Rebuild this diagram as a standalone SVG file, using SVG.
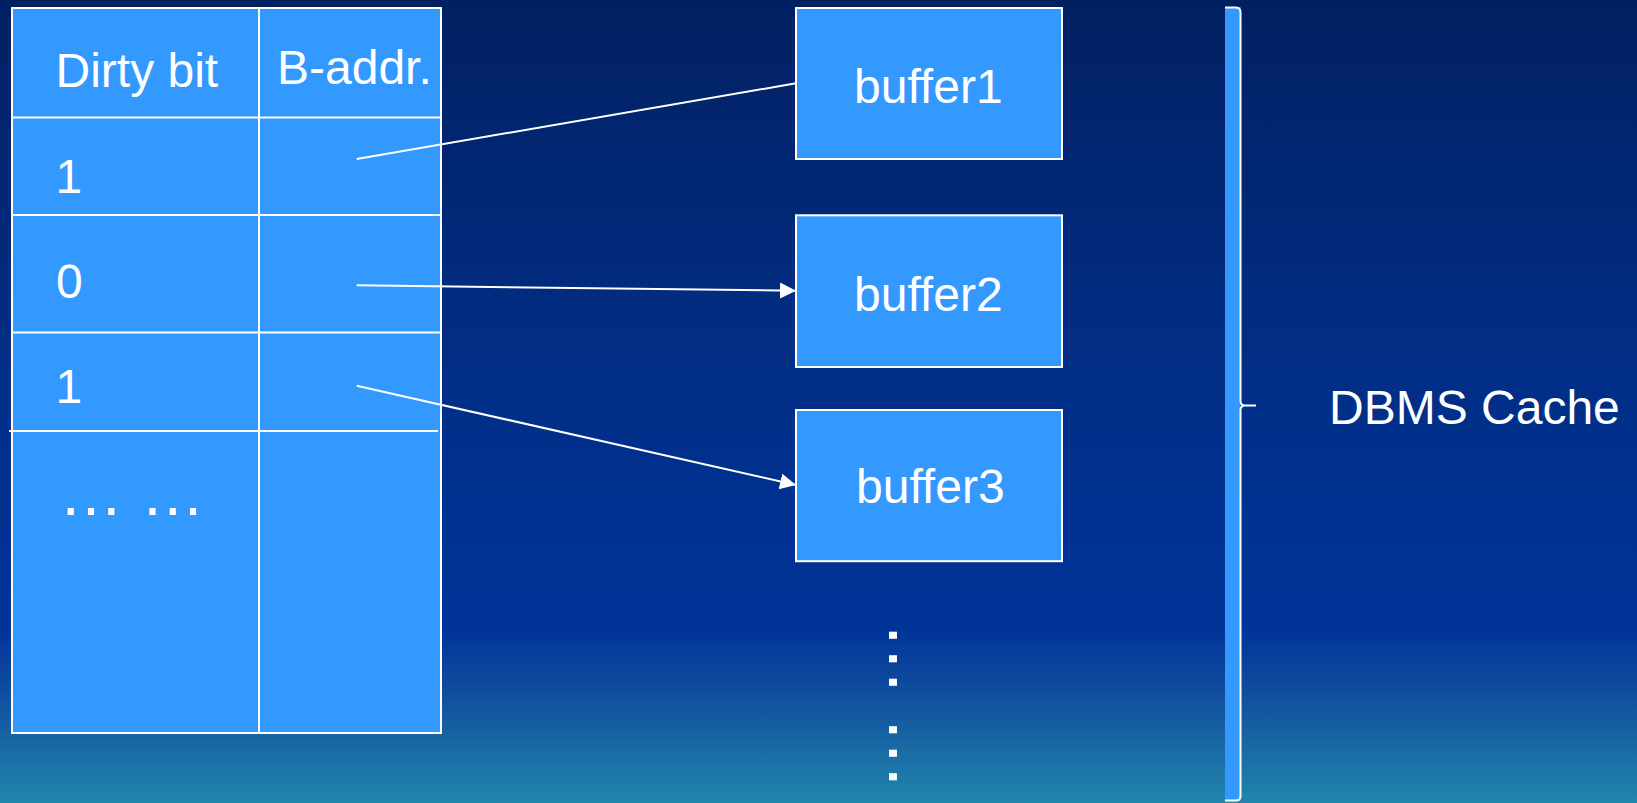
<svg xmlns="http://www.w3.org/2000/svg" width="1637" height="803" viewBox="0 0 1637 803">
  <defs>
    <linearGradient id="bg" x1="0" y1="0" x2="0" y2="1">
      <stop offset="0" stop-color="#012062"/>
      <stop offset="0.45" stop-color="#012e85"/>
      <stop offset="0.78" stop-color="#003399"/>
      <stop offset="0.87" stop-color="#12509f"/>
      <stop offset="1" stop-color="#2186ab"/>
    </linearGradient>
    <marker id="arrow" markerUnits="userSpaceOnUse" markerWidth="18" markerHeight="18" refX="16" refY="8" orient="auto">
      <path d="M0,0 L16,8 L0,16 Z" fill="#ffffff"/>
    </marker>
    <style>
      .cell { fill: #3399ff; stroke: #ffffff; stroke-width: 2; }
      .rule { stroke: #ffffff; stroke-width: 2; fill: none; }
      .lbl { font-family: "Liberation Sans", Arial, sans-serif; font-size: 48px; fill: #ffffff; }
      .dots { font-family: "Liberation Sans", Arial, sans-serif; fill: #ffffff; }
      .link { stroke: #ffffff; stroke-width: 2; fill: none; }
    </style>
  </defs>

  <!-- backdrop -->
  <rect x="0" y="0" width="1637" height="803" fill="url(#bg)"/>

  <!-- dirty-bit table -->
  <g id="table">
    <rect class="cell" x="12" y="8" width="429" height="725"/>
    <line class="rule" x1="259" y1="8" x2="259" y2="733"/>
    <line class="rule" x1="12" y1="117.5" x2="441" y2="117.5"/>
    <line class="rule" x1="12" y1="215" x2="441" y2="215"/>
    <line class="rule" x1="12" y1="332.5" x2="441" y2="332.5"/>
    <line class="rule" x1="9" y1="431" x2="438" y2="431"/>
    <text class="lbl" x="55.5" y="87">Dirty bit</text>
    <text class="lbl" x="277" y="84">B-addr.</text>
    <text class="lbl" x="55.5" y="193">1</text>
    <text class="lbl" x="56" y="298">0</text>
    <text class="lbl" x="55.5" y="403">1</text>
    <text class="dots" x="59" y="515" font-size="64">… …</text>
  </g>

  <!-- cache buffers -->
  <g id="buffer1">
    <rect class="cell" x="796" y="8" width="266" height="151"/>
    <text class="lbl" x="854" y="102.8">buffer1</text>
  </g>
  <g id="buffer2">
    <rect class="cell" x="796" y="215.3" width="266" height="151.7"/>
    <text class="lbl" x="854" y="310.8">buffer2</text>
  </g>
  <g id="buffer3">
    <rect class="cell" x="796" y="410" width="266" height="151.2"/>
    <text class="lbl" x="856" y="503.1">buffer3</text>
  </g>

  <!-- further buffers, elided -->
  <g id="more-buffers">
    <text class="dots" font-size="74" transform="translate(889,621.7) rotate(90)">… …</text>
  </g>

  <!-- brace spanning the cache -->
  <g id="cache-brace">
    <rect x="1225" y="7" width="15.5" height="794" fill="#3399ff"/>
    <path class="rule" d="M1225,7.5 L1236,7.5 Q1240.5,8 1240.5,12 L1240.5,401 Q1240.5,405.5 1245,405.5 L1256,405.5 M1245,405.5 Q1240.5,406 1240.5,410 L1240.5,796 Q1240.5,800.5 1236,800.5 L1225,800.5"/>
    <text class="lbl" x="1329" y="424">DBMS Cache</text>
  </g>

  <!-- address pointers -->
  <g id="connectors">
    <line class="link" x1="356.7" y1="159" x2="796" y2="83.3"/>
    <line class="link" x1="356.7" y1="285.3" x2="796" y2="290.7" marker-end="url(#arrow)"/>
    <line class="link" x1="356.7" y1="385.7" x2="796" y2="485" marker-end="url(#arrow)"/>
  </g>
</svg>
